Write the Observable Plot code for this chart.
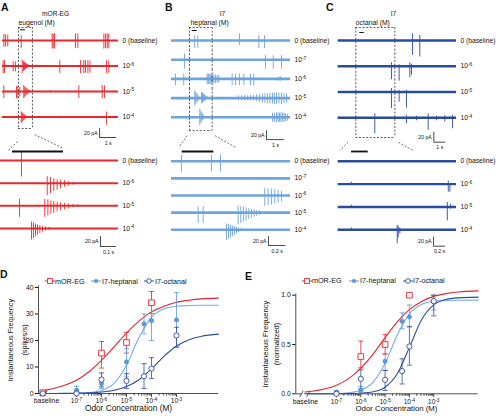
<!DOCTYPE html>
<html><head><meta charset="utf-8">
<script src="https://cdn.jsdelivr.net/npm/d3@7"></script>
<script src="https://cdn.jsdelivr.net/npm/@observablehq/plot@0.6"></script>
<style>
body{margin:0;background:#fff;}
#fig{position:relative;width:496px;height:416px;overflow:hidden;font-family:"Liberation Sans",Arial,sans-serif;color:#111;}
.abs{position:absolute;line-height:1;white-space:nowrap;}
.letter{font-weight:bold;font-size:10.5px;}
</style></head><body><div id="fig"></div><script>
// ---------------- data ----------------
const aRows = ["0", "-6", "-5", "-4"];
const bRows = ["0", "-7", "-6", "-5", "-4"];
const cRows = ["0", "-6", "-5", "-4"];
// spikes: [row (log conc), time (s), upward deflection (pA), downward deflection (pA)]
const aTopSpikes = [
 ["0",0.08,13,15],["0",0.18,13,15],["0",0.31,12,14],["0",1.1,11,18],["0",2.92,15,19],["0",2.98,14,18],["0",3.06,15,19],["0",4.29,15,18],["0",4.43,14,18],["0",5.96,15,19],["0",6.06,14,18],["0",6.16,15,19],["0",6.25,14,18],
 ["-6",0.04,12,17],["-6",0.12,12,17],["-6",0.63,9,13],["-6",0.76,9,13],["-6",1.16,13,17],["-6",1.24,10,12],["-6",1.29,8,10],["-6",1.35,6,8],["-6",1.41,5,6],["-6",1.47,3,4],["-6",1.53,2,3],["-6",2.0,2,2],["-6",3.37,12,17],["-6",4.59,12,17],["-6",4.78,12,17],["-6",4.88,12,16],["-6",5.02,12,17],["-6",5.14,11,16],["-6",6.12,12,17],["-6",6.25,11,16],
 ["-5",0.08,13,16],["-5",0.82,11,16],["-5",0.9,11,16],["-5",1.02,9,12],["-5",1.25,13,16],["-5",1.31,10,13],["-5",1.37,8,10],["-5",1.43,6,8],["-5",1.49,5,6],["-5",1.55,3,4],["-5",1.61,2,3],["-5",2.82,2,2],["-5",4.49,13,16],["-5",5.86,13,16],["-5",6.0,13,16],
 ["-4",1.1,11,15],["-4",1.16,9,12],["-4",1.22,7,9],["-4",1.28,5,7],["-4",1.34,3,5],["-4",1.39,2,3],["-4",3.31,2,2],["-4",6.12,11,18]
];
const aZoomSpikes = [
 ["0",0.131,17,33],
 ["-6",0.292,13,25],["-6",0.3125,11,21],["-6",0.333,9,17],["-6",0.354,7,14],["-6",0.375,6,11],["-6",0.4,5,8],["-6",0.427,3,6],["-6",0.454,2,4],
 ["-5",0.119,13,23],["-5",0.277,13,23],["-5",0.296,12,20],["-5",0.315,10,17],["-5",0.333,9,15],["-5",0.354,7,12],["-5",0.375,6,10],["-5",0.4,5,8],["-5",0.427,4,6],["-5",0.454,3,4],["-5",0.483,2,3],
 ["-4",0.194,13,23],["-4",0.206,11,20],["-4",0.219,9,16],["-4",0.231,7,13],["-4",0.246,6,10],["-4",0.2625,4,7],["-4",0.281,3,5],["-4",0.302,2,3]
];
const bTopSpikes = [
 ["0",1.29,11,18],["0",1.46,11,18],["0",3.78,15,11],["0",4.85,11,18],["0",5.17,11,18],
 ["-7",0.72,13,21],["-7",5.22,9,21],["-7",5.65,9,21],["-7",6.11,9,21],
 ["-6",0.22,11,15],["-6",0.68,11,15],["-6",1.98,11,13],["-6",2.04,11,13],["-6",2.09,11,13],["-6",2.15,10,12],["-6",2.21,10,12],["-6",2.26,9,11],["-6",2.35,9,11],["-6",2.44,8,10],["-6",2.54,8,10],["-6",2.63,7,9],["-6",3.37,11,15],["-6",3.56,11,15],["-6",3.78,11,15],["-6",4.02,11,15],["-6",4.39,11,15],["-6",4.57,11,15],["-6",5.96,5,5],["-6",6.06,5,5],
 ["-5",1.29,16,17],["-5",1.35,13,14],["-5",1.41,10,11],["-5",1.46,7,8],["-5",1.52,4,5],["-5",1.67,13,13],["-5",1.72,11,11],["-5",1.78,9,9],["-5",1.83,7,7],["-5",1.89,5,5],["-5",1.98,3,3],
 ["-5",3.72,5,5],["-5",3.89,5,5],["-5",4.06,6,6],["-5",4.22,5,5],["-5",4.39,6,6],["-5",4.56,6,6],["-5",4.72,7,7],["-5",4.89,8,9],["-5",5.06,9,11],["-5",5.19,10,12],["-5",5.33,10,13],["-5",5.47,11,13],["-5",5.61,11,13],["-5",5.72,11,14],["-5",5.83,11,14],["-5",5.97,11,13],["-5",6.11,11,14],["-5",6.25,10,12],["-5",6.39,9,11],
 ["-4",1.57,18,18],["-4",1.63,14,14],["-4",1.68,10,10],["-4",1.74,7,7],["-4",1.79,4,4],["-4",5.61,9,11],["-4",5.72,9,11],["-4",5.83,10,12],["-4",5.92,10,12],["-4",6.0,9,11],["-4",6.08,10,12],["-4",6.17,9,11],["-4",6.25,9,11],["-4",6.33,8,10],["-4",6.44,7,9]
];
const bZoomSpikes = [
 ["0",0.115,13,24],["0",0.461,13,24],["0",0.565,14,24],
 ["-6",1.076,16,24],["-6",1.115,15,22],["-6",1.153,14,21],["-6",1.191,13,19],["-6",1.23,11,17],["-6",1.269,9,14],
 ["-5",0.308,13,24],["-5",0.366,13,24],["-5",0.769,15,27],["-5",0.799,13,24],["-5",0.83,12,21],["-5",0.861,10,18],["-5",0.892,9,15],["-5",0.923,7,12],["-5",0.954,6,10],["-5",0.984,5,8],["-5",1.015,4,6],["-5",1.046,3,4],
 ["-4",0.634,13,24],["-4",0.657,12,21],["-4",0.681,10,18],["-4",0.704,8,15],["-4",0.727,7,12],["-4",0.75,5,9],["-4",0.773,4,6],["-4",0.796,3,4]
];
const cTopSpikes = [
 ["0",6.19,13,30],["0",6.8,10,33],
 ["-6",4.44,7,27],["-6",5.08,3,30],["-6",5.97,7,23],["-6",6.11,4,18],
 ["-5",4.44,7,33],["-5",5.08,3,20],["-5",5.69,3,32],
 ["-4",3.05,8,32],["-4",5.69,5,12],["-4",6.53,3,6],["-4",7.5,8,25],["-4",8.19,3,6],["-4",8.88,4,8],["-4",9.53,5,22]
];
const cZoomSpikes = [
 ["-6",0.22,4,2],["-6",1.833,7,18],["-6",1.86,0,18],
 ["-5",0.22,4,2],["-5",1.817,10,31],["-5",1.872,6,5],
 ["-4",0.22,4,2],["-4",0.983,10,31],["-4",1.0,7,18],["-4",1.027,4,9]
];
const scaleAmpPA = 20;
const scaleDurTop = [1, 1, 1];
const scaleDurZoom = [0.1, 0.2, 0.2];

// dose-response (D: spikes/s, E: normalized); x as log10 concentration (M)
const baselineExpD = -8.35;
const concExp = [-7, -6, -5, -4.3, -4, -3];
const egExp = [-6, -5, -4];
const dEGMean = [15.25, 19.25, 34.25], dEGLow = [9.6, 15.25, 30.25], dEGHigh = [19.6, 23.1, 38.5];
const dEGBase = 0.3;
const dHepMean = [1.25, 3.75, 11.9, 26.25, 27.5, 27.75], dHepLow = [0, 1.9, 6.25, 22.5, 20, 17.5], dHepHigh = [2.75, 5.6, 16.9, 30, 34.4, 38.1];
const dOctMean = [0, 5.25, 4.75, 6.5, 9.4, 21.9], dOctLow = [0, 2.5, 1.9, 1.9, 5.6, 17.5], dOctHigh = [1.0, 7.75, 7.5, 11.25, 13.5, 25];
const dCurveExp = [-8.24, -7.5, -7, -6.5, -6, -5.5, -5, -4.5, -4, -3.5, -3, -2.5, -2, -1.32];
const dCurveEG = [1.27, 3.0, 5.0, 8.2, 12.5, 17.6, 22.8, 27.3, 30.8, 32.9, 34.4, 35.2, 35.7, 36.0];
const dCurveHep = [0.003, 0.024, 0.085, 0.32, 1.12, 3.8, 10.7, 21.1, 28.8, 31.9, 32.9, 33.2, 33.3, 33.3];
const dCurveOct = [0.014, 0.046, 0.11, 0.24, 0.55, 1.21, 2.6, 5.2, 9.3, 14.0, 17.9, 20.3, 21.6, 22.4];
const eEGMean = [0.378, 0.5, 1.0], eEGLow = [0.264, 0.4, 1.0], eEGHigh = [0.534, 0.6, 1.0];
const eHepMean = [0.017, 0.034, 0.33, 0.736, 0.78, 0.93], eHepLow = [0, 0.01, 0.24, 0.66, 0.68, 0.85], eHepHigh = [0.034, 0.074, 0.41, 0.82, 0.9, 1.0];
const eOctMean = [0, 0.152, 0.142, 0.23, 0.48, 0.94], eOctLow = [0, 0.05, 0.034, 0.1, 0.29, 0.79], eOctHigh = [0, 0.243, 0.236, 0.355, 0.68, 1.0];
const eCurveExp = [-8.3, -8, -7.5, -7, -6.5, -6, -5.5, -5, -4.5, -4, -3.5, -3, -2.5, -2, -1.17];
const eCurveEG = [0.018, 0.026, 0.048, 0.087, 0.154, 0.26, 0.40, 0.57, 0.73, 0.853, 0.937, 0.988, 1.016, 1.032, 1.044];
const eCurveHep = [0, 0, 0.001, 0.003, 0.011, 0.037, 0.117, 0.31, 0.596, 0.811, 0.906, 0.937, 0.946, 0.949, 0.95];
const eCurveOct = [0, 0, 0, 0.0005, 0.0018, 0.0057, 0.020, 0.067, 0.203, 0.471, 0.751, 0.902, 0.957, 0.973, 0.98];
const xTickExp = [-7, -6, -5, -4, -3];
const seriesNames = ["mOR-EG", "I7-heptanal", "I7-octanal"];

// ---------------- styling ----------------
const RED = "#e2262d", LBLUE = "#5b98d8", LBLUE_LINE = "#78ade4", DBLUE = "#2d4c9e";
const TRACE_A = "#e8282e", TRACE_B = "#6ea3de", TRACE_C = "#2b4ba3";
const FONT = '"Liberation Sans", Arial, sans-serif';
const fig = document.getElementById("fig");
const SVGNS = "http://www.w3.org/2000/svg";

function supify(root) {
  root.querySelectorAll("text, tspan").forEach(el => {
    if (el.childNodes.length === 1 && el.firstChild.nodeType === 3) {
      const m = el.textContent.match(/^(.*?)\^(\S+)$/);
      if (m) {
        el.textContent = m[1];
        const s = document.createElementNS(SVGNS, "tspan");
        s.setAttribute("dy", "-0.45em");
        s.setAttribute("font-size", "72%");
        s.textContent = m[2];
        el.appendChild(s);
      }
    }
  });
}
function place(svg, left, top) {
  svg.style.position = "absolute";
  svg.style.left = left + "px";
  svg.style.top = top + "px";
  supify(svg);
  fig.appendChild(svg);
}
function html(cls, text, left, top, css = {}) {
  const d = document.createElement("div");
  d.className = "abs " + cls;
  d.textContent = text;
  d.style.left = left + "px";
  d.style.top = top + "px";
  Object.assign(d.style, css);
  fig.appendChild(d);
  return d;
}
const rowLabel = r => r === "0" ? "0 (baseline)" : "10^" + r;

// ---------------- trace panels ----------------
function tracePanel(o) {
  const half = o.band / 2 / o.pxPerPA;
  const pa = px => px / o.pxPerPA;
  const first = o.rows[0], last = o.rows[o.rows.length - 1];
  const rowData = o.rows.map(r => ({row: r}));
  const spikes = o.spikes.map(([row, t, up, down]) => ({row, t, up, down: -down}));
  const ink = {stroke: "#1a1a1a", strokeWidth: 0.8};
  const dash = {stroke: "#333", strokeWidth: 0.8, strokeDasharray: "2,1.6"};
  const marks = [
    Plot.ruleY(rowData, {fy: "row", y: 0, x1: 0, x2: o.T, stroke: o.color, strokeWidth: o.lineWidth}),
    Plot.ruleX(spikes, {fy: "row", x: "t", y1: "down", y2: "up", stroke: o.color, strokeWidth: 0.9})
  ];
  if (o.box) {
    const [t0, t1, topPx, botPx] = o.box;
    const seg = o.rows.map(r => ({row: r, y1: r === first ? pa(topPx) : half, y2: r === last ? -pa(botPx) : -half}));
    marks.push(Plot.ruleX(seg, {fy: "row", x: t0, y1: "y1", y2: "y2", ...dash}));
    marks.push(Plot.ruleX(seg, {fy: "row", x: t1, y1: "y1", y2: "y2", ...dash}));
    marks.push(Plot.ruleY([{row: first, y: pa(topPx)}, {row: last, y: -pa(botPx)}], {fy: "row", y: "y", x1: t0, x2: t1, ...dash}));
  }
  if (o.stim) {
    const [s0, s1, px, w] = o.stim;
    marks.push(Plot.ruleY([{row: first}], {fy: "row", y: pa(px), x1: s0, x2: s1, stroke: "#111", strokeWidth: w}));
  }
  if (o.title) marks.push(Plot.text([{row: first}], {fy: "row", x: o.title[1], y: pa(o.title[2]), text: () => o.title[0], fontSize: 6.6}));
  if (o.odor) marks.push(Plot.text([{row: first}], {fy: "row", x: o.odor[1], y: pa(o.odor[2]), text: () => o.odor[0], textAnchor: "start", fontSize: 6.8}));
  if (o.fans) marks.push(Plot.link(o.fans.map(([a, ya, b, yb]) => ({row: last, x1: a, y1: -pa(ya), x2: b, y2: -pa(yb)})),
    {fy: "row", x1: "x1", y1: "y1", x2: "x2", y2: "y2", ...dash, strokeWidth: 0.7}));
  const [sbT, sbPx] = o.sb;
  const y0 = -pa(sbPx), y1 = y0 - scaleAmpPA;
  marks.push(Plot.ruleX([{row: last}], {fy: "row", x: sbT, y1: y0, y2: y1, ...ink}));
  marks.push(Plot.ruleY([{row: last}], {fy: "row", y: y1, x1: sbT, x2: sbT + o.dur, ...ink}));
  marks.push(Plot.text([{row: last}], {fy: "row", x: sbT, y: (y0 + y1) / 2, dx: -2, textAnchor: "end", text: () => scaleAmpPA + " pA", fontSize: 5.2}));
  marks.push(Plot.text([{row: last}], {fy: "row", x: sbT + o.dur / 2, y: y1, dy: 5.5, text: () => o.dur + " s", fontSize: 5.2}));
  const svg = Plot.plot({
    width: o.width, height: o.height,
    marginLeft: o.ml, marginRight: o.mr, marginTop: o.mt,
    marginBottom: o.height - o.mt - o.band * o.rows.length,
    x: {domain: [0, o.T], axis: null},
    y: {domain: [-half, half], axis: null},
    fy: {domain: o.rows, axis: "right", label: null, tickSize: 0, tickPadding: 4, padding: 0, round: false, tickFormat: rowLabel},
    style: {fontFamily: FONT, fontSize: "6.7px", background: "transparent", overflow: "visible", color: "#111"},
    marks
  });
  place(svg, o.left, o.top);
}

tracePanel({left: 0, top: 0, width: 160, height: 150, ml: 2, mr: 42, mt: 27.25, band: 25.5, pxPerPA: 0.45,
  rows: aRows, spikes: aTopSpikes, T: 6.82, color: TRACE_A, lineWidth: 2,
  box: [0.94, 1.76, 13, 11.5], stim: [1.06, 1.35, 10.7, 1], title: ["mOR-EG", 3.12, 27], odor: ["eugenol (M)", 0.94, 17.5],
  fans: [[0.88, 24.5, 0.29, 34.5], [1.88, 17.5, 3.59, 31.5]], sb: [5.71, 11.5], dur: scaleDurTop[0]});
tracePanel({left: 0, top: 145, width: 160, height: 120, ml: 0, mr: 42, mt: 3.67, band: 22.67, pxPerPA: 0.5,
  rows: aRows, spikes: aZoomSpikes, T: 0.7375, color: TRACE_A, lineWidth: 2,
  stim: [0.075, 0.394, 9, 1.8], sb: [0.625, 8], dur: scaleDurZoom[0]});
tracePanel({left: 165, top: 0, width: 170, height: 150, ml: 6, mr: 45, mt: 30.4, band: 19.2, pxPerPA: 0.45,
  rows: bRows, spikes: bTopSpikes, T: 6.61, color: TRACE_B, lineWidth: 2.6,
  box: [1.0, 2.26, 13, 13.3], stim: [1.15, 1.43, 10, 1], title: ["I7", 2.83, 27], odor: ["heptanal (M)", 1.06, 17.5],
  fans: [[0.87, 18.3, 0.41, 30], [2.41, 18.3, 3.56, 30]], sb: [5.28, 13.3], dur: scaleDurTop[1]});
tracePanel({left: 165, top: 145, width: 170, height: 120, ml: 6, mr: 45, mt: 7.1, band: 17.15, pxPerPA: 0.45,
  rows: bRows, spikes: bZoomSpikes, T: 1.373, color: TRACE_B, lineWidth: 2.6,
  stim: [0.123, 0.488, 9.7, 1.8], sb: [1.119, 6.7], dur: scaleDurZoom[1]});
tracePanel({left: 326, top: 0, width: 170, height: 150, ml: 11.7, mr: 40, mt: 27.1, band: 25.77, pxPerPA: 0.5,
  rows: cRows, spikes: cTopSpikes, T: 9.86, color: TRACE_C, lineWidth: 2.4,
  box: [1.47, 4.72, 13, 19.7], stim: [1.8, 2.17, 8, 1], title: ["I7", 4.61, 27], odor: ["octanal (M)", 1.47, 17.5],
  fans: [[0.83, 24.4, 0.13, 32.7], [5.0, 24.4, 6.25, 32.7]], sb: [7.97, 14.4], dur: scaleDurTop[2]});
tracePanel({left: 326, top: 145, width: 170, height: 120, ml: 11.7, mr: 40, mt: 4.27, band: 22.87, pxPerPA: 0.45,
  rows: cRows, spikes: cZoomSpikes, T: 1.97, color: TRACE_C, lineWidth: 2.4,
  stim: [0.222, 0.5, 9.7, 1.8], sb: [1.588, 7.4], dur: scaleDurZoom[2]});

// ---------------- dose-response panels ----------------
const capSym = {draw(c, s) {const r = Math.sqrt(s / Math.PI); c.moveTo(-r, 0); c.lineTo(r, 0);}};
const vtickSym = {draw(c, s) {const r = Math.sqrt(s / Math.PI); c.moveTo(0, 0); c.lineTo(0, r);}};
const slashSym = {draw(c, s) {const r = Math.sqrt(s / Math.PI); c.moveTo(-r * 0.55, r); c.lineTo(r * 0.55, -r);}};
const minorTicks = [];
for (let k = -7; k <= -4; k++) for (let m = 2; m <= 9; m++) minorTicks.push(m * 10 ** k);

function doseChart(o) {
  const X = e => 10 ** e;
  const ax = {stroke: "#222", strokeWidth: 0.8};
  const marks = [
    Plot.ruleX([X(o.xmin)], {y1: 0, y2: o.yTop, ...ax}),
    Plot.ruleY([0], {x1: X(o.xmin), x2: X(o.brk[0]), ...ax}),
    Plot.ruleY([0], {x1: X(o.brk[1]), x2: X(o.xmax), ...ax}),
    Plot.dot(o.brk, {x: X, y: 0, symbol: slashSym, r: 3, fill: "none", ...ax}),
    Plot.dot(minorTicks, {x: d => d, y: 0, symbol: vtickSym, r: 2, fill: "none", ...ax}),
    Plot.dot(xTickExp, {x: X, y: 0, symbol: vtickSym, r: 3.5, fill: "none", ...ax}),
    Plot.text(xTickExp, {x: X, y: 0, dy: o.labelDy, text: e => "10^" + e, fontSize: 6.5}),
    Plot.text([o.baseLabelExp], {x: X, y: 0, dy: o.labelDy, text: () => "baseline", fontSize: 6.8}),
    Plot.text([0], {frameAnchor: "bottom", dy: o.xlabDy, dx: o.xlabDx, text: () => "Odor Concentration (M)", fontSize: o.xlabSize})
  ];
  for (const s of o.series) {
    marks.push(Plot.line(o.curveExp.map((e, i) => ({x: X(e), y: s.curve[i]})), {x: "x", y: "y", stroke: s.lineColor, strokeWidth: 1.1, curve: "monotone-x"}));
  }
  const pts = o.series.map(s => s.exp.map((e, i) => ({x: X(e), y: s.mean[i], lo: s.low[i], hi: s.high[i]})));
  o.series.forEach((s, j) => {
    const bars = pts[j].filter(d => d.hi > d.lo);
    const eb = {stroke: s.color, strokeWidth: 0.8};
    marks.push(Plot.ruleX(bars, {x: "x", y1: "lo", y2: "hi", ...eb}));
    marks.push(Plot.dot(bars, {x: "x", y: "lo", symbol: capSym, r: 2.6, fill: "none", ...eb}));
    marks.push(Plot.dot(bars, {x: "x", y: "hi", symbol: capSym, r: 2.6, fill: "none", ...eb}));
  });
  o.series.forEach((s, j) => {
    marks.push(Plot.dot(pts[j], {x: "x", y: "y", symbol: s.symbol, r: s.r, fill: s.fill, stroke: s.color, strokeWidth: 0.9}));
  });
  const svg = Plot.plot({
    width: o.width, height: o.height, marginLeft: o.ml, marginRight: o.mr, marginTop: o.mt, marginBottom: o.mb,
    x: {type: "log", domain: [X(o.xmin), X(o.xmax)], axis: null},
    y: {domain: o.yDomain, ticks: o.yTicks, tickSize: 3, tickPadding: 2, label: null, tickFormat: o.yFmt},
    style: {fontFamily: FONT, fontSize: "6.8px", background: "transparent", overflow: "visible", color: "#111"},
    marks
  });
  place(svg, o.left, o.top);
}

const dSeries = [
  {exp: [baselineExpD, ...egExp], mean: [dEGBase, ...dEGMean], low: [dEGBase, ...dEGLow], high: [dEGBase, ...dEGHigh], curve: dCurveEG,
   color: RED, lineColor: RED, symbol: "square", r: 3.2, fill: "white"},
  {exp: [baselineExpD, ...concExp], mean: [0, ...dHepMean], low: [0, ...dHepLow], high: [0, ...dHepHigh], curve: dCurveHep,
   color: LBLUE, lineColor: LBLUE_LINE, symbol: "circle", r: 2.1, fill: LBLUE},
  {exp: [baselineExpD, ...concExp], mean: [0, ...dOctMean], low: [0, ...dOctLow], high: [0, ...dOctHigh], curve: dCurveOct,
   color: DBLUE, lineColor: DBLUE, symbol: "circle", r: 2.6, fill: "white"}
];
doseChart({left: 0, top: 270, width: 248, height: 146, ml: 38, mr: 30, mt: 17, mb: 23,
  xmin: -8.52, xmax: -1.32, brk: [-8.38, -8.24], baseLabelExp: -8.2, yTop: 40.6, yDomain: [0, 40], yTicks: [0, 10, 20, 30, 40], yFmt: d3.format("d"),
  labelDy: 7.6, xlabDy: 17.6, xlabDx: 0, xlabSize: 8.3, curveExp: dCurveExp, series: dSeries});

const eSeries = [
  {exp: egExp, mean: eEGMean, low: eEGLow, high: eEGHigh, curve: eCurveEG, color: RED, lineColor: RED, symbol: "square", r: 3.2, fill: "white"},
  {exp: concExp, mean: eHepMean, low: eHepLow, high: eHepHigh, curve: eCurveHep, color: LBLUE, lineColor: LBLUE_LINE, symbol: "circle", r: 2.1, fill: LBLUE},
  {exp: concExp, mean: eOctMean, low: eOctLow, high: eOctHigh, curve: eCurveOct, color: DBLUE, lineColor: DBLUE, symbol: "circle", r: 2.6, fill: "white"}
];
doseChart({left: 248, top: 270, width: 248, height: 146, ml: 47.3, mr: 18.3, mt: 24.7, mb: 22.7,
  xmin: -8.675, xmax: -1.17, brk: [-8.44, -8.16], baseLabelExp: -8.28, yTop: 1.012, yDomain: [0, 1], yTicks: [0, 0.5, 1], yFmt: d3.format(".1f"),
  labelDy: 7.8, xlabDy: 17.6, xlabDx: 9.5, xlabSize: 7.8, curveExp: eCurveExp, series: eSeries});

// ---------------- html text: letters, y labels, legends ----------------
html("letter", "A", 1, 2); html("letter", "B", 165, 2); html("letter", "C", 326, 2);
html("letter", "D", 0, 269); html("letter", "E", 245, 270.5);
function vlabel(text, cx, cy, size) {
  html("", text, cx, cy, {fontSize: size + "px", transform: "translate(-50%,-50%) rotate(-90deg)"});
}
vlabel("Instantaneous Frequency", 10.5, 340, 7.3); vlabel("(spikes/s)", 25, 340, 7.3);
vlabel("Instantaneous Frequency", 266, 343.5, 7.7); vlabel("(normalized)", 277, 343.5, 7.7);

const legendStyles = [
  {color: RED, kind: "square"}, {color: LBLUE, kind: "dot"}, {color: DBLUE, kind: "ring"}
];
function legend(cy, swatchX, textX) {
  seriesNames.forEach((name, i) => {
    const st = legendStyles[i];
    const svg = d3.create("svg").attr("width", 12).attr("height", 8)
      .style("position", "absolute").style("left", (swatchX[i] - 6) + "px").style("top", (cy - 4) + "px");
    svg.append("line").attr("x1", 1).attr("x2", 11).attr("y1", 4).attr("y2", 4).attr("stroke", st.color).attr("stroke-width", 1);
    if (st.kind === "square") svg.append("rect").attr("x", 3.6).attr("y", 1.6).attr("width", 4.8).attr("height", 4.8).attr("fill", "white").attr("stroke", st.color).attr("stroke-width", 0.9);
    if (st.kind === "dot") svg.append("circle").attr("cx", 6).attr("cy", 4).attr("r", 2.1).attr("fill", st.color);
    if (st.kind === "ring") svg.append("circle").attr("cx", 6).attr("cy", 4).attr("r", 2.3).attr("fill", "white").attr("stroke", st.color).attr("stroke-width", 0.9);
    fig.appendChild(svg.node());
    html("", name, textX[i], cy - 3.6, {fontSize: "7.2px"});
  });
}
legend(281.3, [50, 96, 149], [55, 102, 155]);
legend(281, [307, 354, 408], [312, 360, 413]);
</script></body></html>
